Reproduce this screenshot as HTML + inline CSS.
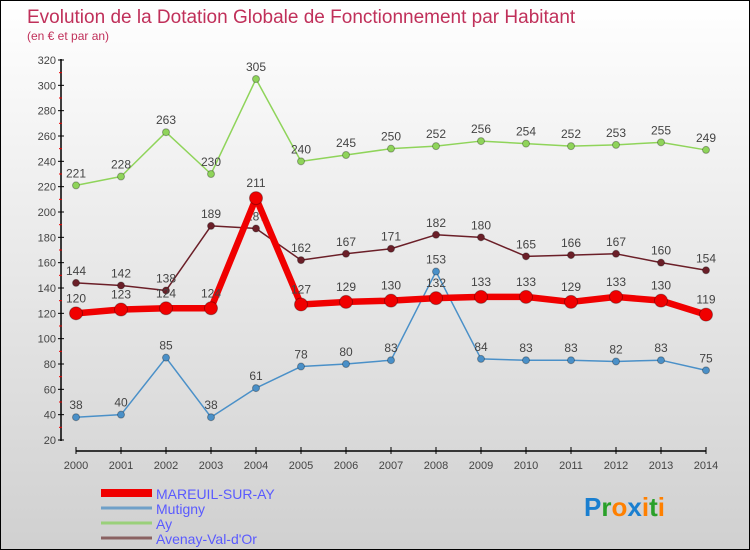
<!DOCTYPE html>
<html><head><meta charset="utf-8"><style>
body{margin:0}
#c{width:748px;height:548px;border:1px solid #000;background:linear-gradient(#fff,#d0d0d0);position:relative;font-family:"Liberation Sans",sans-serif;overflow:hidden}
</style></head><body>
<div id="c">
<svg id="s" width="748" height="548"></svg>
</div>
<script>
const years=["2000","2001","2002","2003","2004","2005","2006","2007","2008","2009","2010","2011","2012","2013","2014"];
const mareuil=[120,123,124,124,211,127,129,130,132,133,133,129,133,130,119];
const mutigny=[38,40,85,38,61,78,80,83,153,84,83,83,82,83,75];
const ay=[221,228,263,230,305,240,245,250,252,256,254,252,253,255,249];
const avenay=[144,142,138,189,187,162,167,171,182,180,165,166,167,160,154];
const yTicks=[20,40,60,80,100,120,140,160,180,200,220,240,260,280,300,320];
const ns="http://www.w3.org/2000/svg",s=document.getElementById('s');
const X=i=>75+i*45, Y=v=>439-(v-20)*380/300;
function el(t,a,txt){const e=document.createElementNS(ns,t);for(const k in a)e.setAttribute(k,a[k]);if(txt!==undefined)e.textContent=txt;s.appendChild(e);return e;}
let e;
e=el('text',{x:26,y:22,'font-size':19,fill:'#c0305a'},'Evolution de la Dotation Globale de Fonctionnement par Habitant');

e=el('text',{x:26,y:39,'font-size':12,fill:'#c0305a'},'(en € et par an)');

e=el('line',{x1:60,y1:58,x2:60,y2:440,stroke:'#000','stroke-width':1.5});

e=el('line',{x1:75,y1:450,x2:705,y2:450,stroke:'#000','stroke-width':1.5});

yTicks.forEach((v,i)=>{
 e=el('line',{x1:57,y1:Y(v),x2:63,y2:Y(v),stroke:'#000'});
 
 if(i<yTicks.length-1){e=el('line',{x1:58,y1:Y(v+10),x2:61,y2:Y(v+10),stroke:'#e00'});
 }
 e=el('text',{x:55,y:Y(v)+4,'font-size':11,'text-anchor':'end',fill:'#444'},v);
 
});
years.forEach((y,i)=>{
 e=el('line',{x1:X(i),y1:446,x2:X(i),y2:453,stroke:'#000'});
 
 e=el('text',{x:X(i),y:468,'font-size':11,'text-anchor':'middle',fill:'#444'},y);
 
});
function series(d,col,w,r,name,lblOff){
 e=el('polyline',{points:d.map((v,i)=>X(i)+','+Y(v)).join(' '),fill:'none',stroke:col,'stroke-width':w,'stroke-linejoin':'round'});
 
 d.forEach((v,i)=>{
  e=el('circle',{cx:X(i),cy:Y(v),r:r,fill:col,stroke:'rgba(0,0,0,0.3)'});
  
  e=el('text',{x:X(i),y:Y(v)-lblOff,'font-size':12,'text-anchor':'middle',fill:'#444'},v);
  
 });
}
series(ay,'#8fd45a',1.5,3.5,'ay',8);
series(avenay,'#6b1f28',1.5,3.5,'avenay',8);
series(mutigny,'#4a90c8',1.5,3.5,'mutigny',8);
series(mareuil,'#f00000',6.5,6.5,'mareuil',11);
const leg=[['MAREUIL-SUR-AY','#f00000',8],['Mutigny','#6fa0c8',3],['Ay','#9ad07a',3],['Avenay-Val-d\'Or','#8a6262',3]];
leg.forEach((l,i)=>{
 const y=492+i*15;
 e=el('line',{x1:100,y1:y,x2:151,y2:y,stroke:l[1],'stroke-width':l[2]});
 
 e=el('text',{x:155,y:y+6,'font-size':14,fill:'#5a5aff'},l[0]);
 
});
e=el('text',{x:583,y:515,'font-size':26,'font-weight':'bold'});

[['P','#1a7fd0'],['r','#2aa02a'],['o','#ff8000'],['x','#1a7fd0'],['i','#ff8000'],['t','#2aa02a'],['i','#ff8000']].forEach(p=>{
 const t=document.createElementNS(ns,'tspan');t.setAttribute('fill',p[1]);t.textContent=p[0];e.appendChild(t);});
</script>
</body></html>
